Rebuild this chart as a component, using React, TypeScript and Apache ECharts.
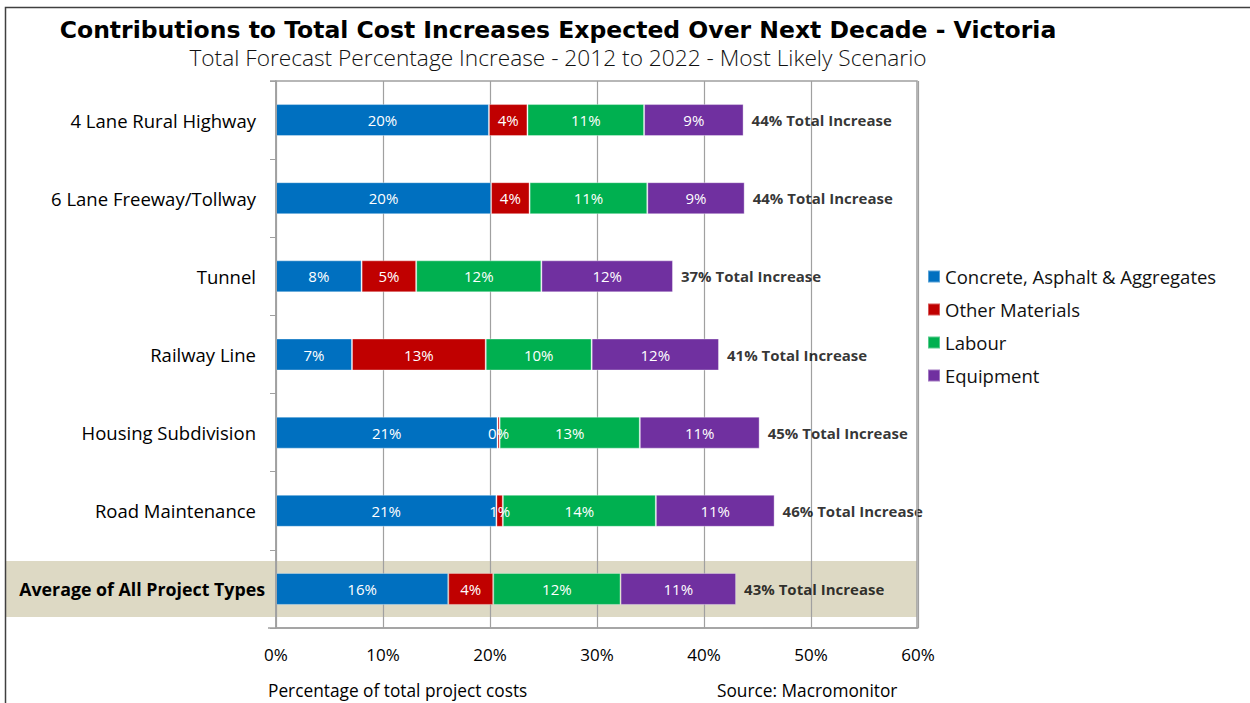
import React, { useEffect, useRef } from "react";
import * as echarts from "echarts";

const categories = [
  "4 Lane Rural Highway",
  "6 Lane Freeway/Tollway",
  "Tunnel",
  "Railway Line",
  "Housing Subdivision",
  "Road Maintenance",
  "Average of All Project Types",
];
const concrete = [19.9, 20.1, 8.0, 7.1, 20.7, 20.6, 16.1];
const otherMaterials = [3.6, 3.6, 5.1, 12.5, 0.2, 0.6, 4.2];
const labour = [10.9, 11.0, 11.7, 9.9, 13.1, 14.3, 11.9];
const equipment = [9.3, 9.1, 12.3, 11.9, 11.2, 11.1, 10.8];
const totalPct = [44, 44, 37, 41, 45, 46, 43];
const xTicks = [0, 10, 20, 30, 40, 50, 60];

const seriesNames = [
  "Concrete, Asphalt & Aggregates",
  "Other Materials",
  "Labour",
  "Equipment",
];
const colors = ["#0070C0", "#C00000", "#00B050", "#7030A0"];
const FONT = "'Open Sans', sans-serif";

export default function App() {
  const ref = useRef<HTMLDivElement>(null);
  useEffect(() => {
    if (!ref.current) return;
    const chart = echarts.init(ref.current, undefined, { renderer: "svg" });
    const segs = [concrete, otherMaterials, labour, equipment];
    const sums = categories.map((_, i) => segs.reduce((a, s) => a + s[i], 0));
    const barSeries = segs.map((d, k) => ({
      name: seriesNames[k],
      type: "bar",
      stack: "total",
      barWidth: 32,
      data: d,
      itemStyle: { color: colors[k], borderColor: "rgba(255,255,255,0.35)", borderWidth: 1 },
      label: {
        show: true,
        position: "inside",
        color: "#ffffff",
        fontFamily: FONT,
        fontSize: 15,
        formatter: (p: any) => Math.round(p.value) + "%",
      },
      z: 3,
    }));
    chart.setOption({
      animation: false,
      textStyle: { fontFamily: FONT },
      title: [
        {
          text: "Contributions to Total Cost Increases Expected Over Next Decade - Victoria",
          left: 558,
          textAlign: "center",
          top: 17,
          padding: 0,
          textStyle: {
            fontFamily: "'DejaVu Sans', sans-serif",
            fontSize: 23.5,
            lineHeight: 26,
            fontWeight: "bold",
            color: "#000",
          },
        },
        {
          text: "Total Forecast Percentage Increase - 2012 to 2022 - Most Likely Scenario",
          left: 558,
          textAlign: "center",
          top: 45,
          padding: 0,
          textStyle: { fontFamily: FONT, fontSize: 22.7, lineHeight: 24, fontWeight: 300, color: "#111" },
        },
      ],
      legend: {
        orient: "vertical",
        left: 927,
        top: 267,
        padding: 0,
        icon: "rect",
        itemWidth: 12,
        itemHeight: 12,
        itemGap: 14,
        data: seriesNames,
        textStyle: { fontFamily: FONT, fontSize: 18.5, color: "#111", padding: [0, 0, 0, 0] },
      },
      grid: { left: 276, right: 332, top: 81, bottom: 75, containLabel: false, show: false },
      xAxis: {
        type: "value",
        min: 0,
        max: 60,
        interval: 10,
        axisLine: { show: true, lineStyle: { color: "#A0A0A0", width: 1.5 } },
        axisTick: { show: false },
        splitLine: { show: true, lineStyle: { color: "#A0A0A0", width: 1.2 } },
        axisLabel: {
          margin: 18,
          fontFamily: FONT,
          fontSize: 17,
          color: "#000",
          formatter: (v: number) => (xTicks.includes(v) ? v + "%" : ""),
        },
      },
      yAxis: {
        type: "category",
        inverse: true,
        data: categories,
        axisLine: { show: true, lineStyle: { color: "#A0A0A0", width: 1.5 } },
        axisTick: { show: true, length: 6, lineStyle: { color: "#A0A0A0" } },
        axisLabel: {
          margin: 11,
          fontFamily: FONT,
          fontSize: 18.5,
          color: "#000",
          formatter: (v: string) =>
            v.startsWith("Average") ? `{b|${v}}` : `{n|${v}}`,
          rich: {
            n: { fontFamily: FONT, fontSize: 18.5, color: "#000", padding: [0, 9, 0, 0] },
            b: { fontFamily: FONT, fontSize: 17.8, fontWeight: "bold", color: "#000" },
          },
        },
      },
      series: [
        ...barSeries,
        {
          name: "totals",
          type: "scatter",
          symbolSize: 0,
          data: sums.map((s, i) => [s, categories[i]]),
          label: {
            show: true,
            position: "right",
            distance: 8,
            fontFamily: FONT,
            fontSize: 15,
            fontWeight: "bold",
            color: "#000",
            formatter: (p: any) => totalPct[p.dataIndex] + "% Total Increase",
          },
          z: 4,
        },
      ],
      graphic: [
        {
          type: "rect",
          z: -10,
          silent: true,
          shape: { x: 5, y: 561, width: 912, height: 56 },
          style: { fill: "#DDD9C4" },
        },
        {
          type: "rect",
          z: 10,
          silent: true,
          shape: { x: 276, y: 81, width: 641, height: 547 },
          style: { fill: "none", stroke: "#A0A0A0", lineWidth: 1.5 },
        },
        {
          type: "line",
          z: 10,
          silent: true,
          shape: { x1: 270, y1: 81, x2: 276, y2: 81 },
          style: { stroke: "#A0A0A0", lineWidth: 1.5 },
        },
        {
          type: "line",
          z: 10,
          silent: true,
          shape: { x1: 268, y1: 628, x2: 276, y2: 628 },
          style: { stroke: "#A0A0A0", lineWidth: 1.5 },
        },
        {
          type: "rect",
          z: 10,
          silent: true,
          shape: { x: 5.5, y: 7.5, width: 1260, height: 720 },
          style: { fill: "none", stroke: "#404040", lineWidth: 1.5 },
        },
        {
          type: "text",
          left: 268,
          top: 682,
          style: { text: "Percentage of total project costs", fontFamily: FONT, fontSize: 17.3, fill: "#000" },
        },
        {
          type: "text",
          left: 717,
          top: 682,
          style: { text: "Source: Macromonitor", fontFamily: FONT, fontSize: 17.3, fill: "#000" },
        },
      ],
    });
    return () => chart.dispose();
  }, []);
  return (
    <div
      ref={ref}
      style={{ position: "fixed", left: 0, top: 0, width: 1250, height: 703, background: "#fff" }}
    />
  );
}
